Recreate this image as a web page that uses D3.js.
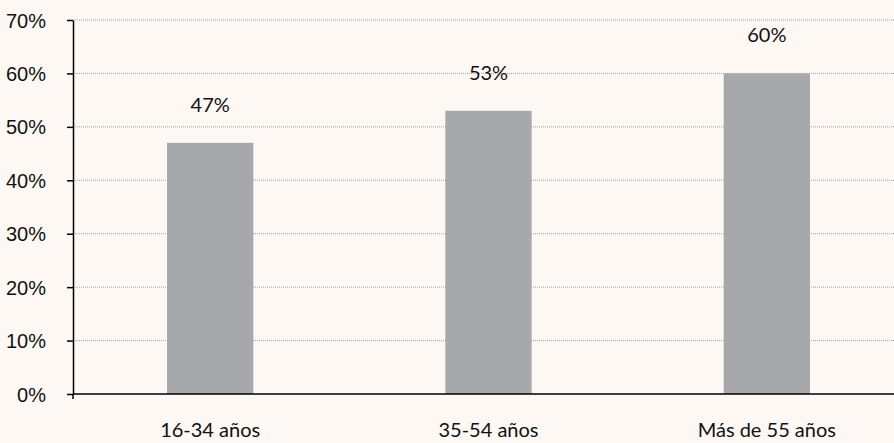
<!DOCTYPE html>
<html>
<head>
<meta charset="utf-8">
<script src="https://cdn.jsdelivr.net/npm/d3@7"></script>
<style>
  body { margin: 0; background: #fdf8f4; }
  svg { display: block; font-family: Lato, "Open Sans", sans-serif; }
  .grid line { stroke: #a0a0a0; stroke-dasharray: 1,1; }
  .axis path, .axis line { stroke: #000; stroke-width: 1.5; }
  .axis text { font-size: 20px; fill: #111; }
  .bar-label { font-size: 20px; fill: #111; }
</style>
</head>
<body>
<div id="chart"></div>
<script>
var categories = ["16-34 años", "35-54 años", "Más de 55 años"];
var values = [47, 53, 60];
var y_ticks = [0, 10, 20, 30, 40, 50, 60, 70];

var width = 894, height = 443;
var margin = {top: 20, right: 0, bottom: 49, left: 73};

var svg = d3.select("#chart").append("svg")
    .attr("width", width)
    .attr("height", height);

var x = d3.scaleBand()
    .domain(categories)
    .range([margin.left - 2, 906])
    .paddingInner(0.69)
    .paddingOuter(0.345);

var y = d3.scaleLinear()
    .domain([0, 70])
    .range([height - margin.bottom, margin.top]);

// dotted grid lines
svg.append("g")
    .attr("class", "grid")
    .selectAll("line")
    .data(y_ticks.slice(1))
    .enter()
    .append("line")
    .attr("x1", margin.left)
    .attr("x2", width)
    .attr("y1", function (d) { return y(d); })
    .attr("y2", function (d) { return y(d); });

svg.selectAll(".bar")
    .data(values)
    .enter()
    .append("rect")
    .attr("class", "bar")
    .attr("x", function (d, i) { return x(categories[i]); })
    .attr("width", x.bandwidth())
    .attr("y", function (d) { return y(d); })
    .attr("height", function (d) { return y(0) - y(d); })
    .attr("fill", "#a6a8ab");

svg.selectAll(".bar-label")
    .data(values)
    .enter()
    .append("text")
    .attr("class", "bar-label")
    .attr("x", function (d, i) { return x(categories[i]) + x.bandwidth() / 2; })
    .attr("y", function (d) { return y(d) - 31; })
    .attr("text-anchor", "middle")
    .text(function (d) { return d + "%"; });

// y axis
var yAxis = svg.append("g")
    .attr("class", "axis")
    .attr("transform", "translate(" + margin.left + ",0)")
    .call(d3.axisLeft(y).tickValues(y_ticks).tickSize(6).tickSizeOuter(0)
        .tickFormat(function (d) { return d + "%"; }));
yAxis.selectAll("text").attr("x", -27).attr("text-anchor", "end").attr("dy", "0.35em");

// x axis line
var xg = svg.append("g").attr("class", "axis");
xg.append("line")
    .attr("x1", margin.left)
    .attr("x2", width)
    .attr("y1", y(0))
    .attr("y2", y(0));
xg.append("line")
    .attr("x1", margin.left)
    .attr("x2", margin.left)
    .attr("y1", y(0))
    .attr("y2", y(0) + 5);
xg.selectAll("text")
    .data(categories)
    .enter()
    .append("text")
    .attr("x", function (d) { return x(d) + x.bandwidth() / 2; })
    .attr("y", y(0) + 43)
    .attr("text-anchor", "middle")
    .text(function (d) { return d; });
</script>
</body>
</html>
